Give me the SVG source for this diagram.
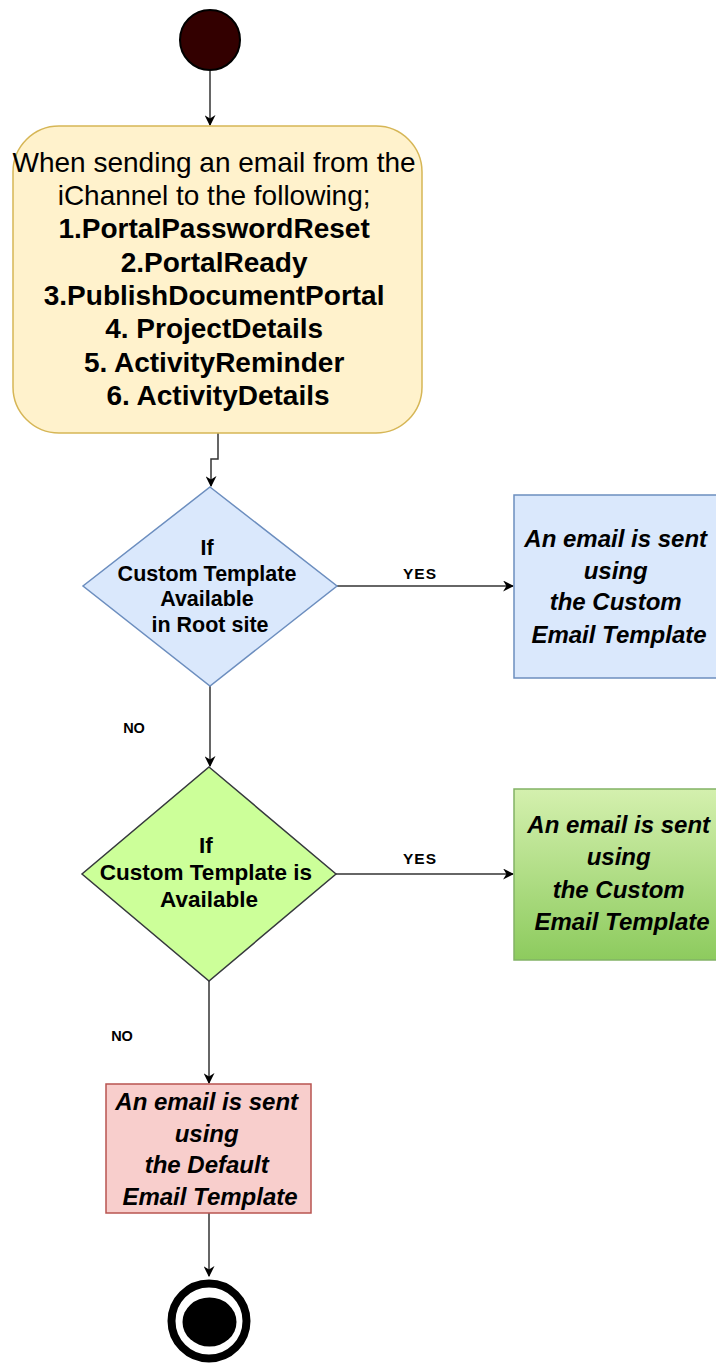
<svg xmlns="http://www.w3.org/2000/svg" width="716" height="1363" viewBox="0 0 716 1363">
<style>
.t{font-family:"Liberation Sans",Arial,sans-serif;fill:#000;text-anchor:middle}
.b{font-weight:bold}
.bi{font-weight:bold;font-style:italic}
.c{fill:none;stroke:#333;stroke-width:1.5}
</style>
<defs>
<marker id="ah" viewBox="0 0 10 10" refX="9" refY="5" markerWidth="11" markerHeight="11" markerUnits="userSpaceOnUse" orient="auto">
<path d="M0,0 L10,5 L0,10 L3,5 Z" fill="#000"/>
</marker>
<linearGradient id="gg" x1="0" y1="0" x2="0" y2="1">
<stop offset="0" stop-color="#d4f0ae"/>
<stop offset="1" stop-color="#8dcb5e"/>
</linearGradient>
</defs>
<rect width="716" height="1363" fill="#fff"/>
<g id="connectors">
<path class="c" d="M210 71 V125" marker-end="url(#ah)"/>
<path class="c" d="M218 433 V459 H211 V486" marker-end="url(#ah)"/>
<path class="c" d="M337 586 H513" marker-end="url(#ah)"/>
<path class="c" d="M210 686 V766" marker-end="url(#ah)"/>
<path class="c" d="M336 874 H513" marker-end="url(#ah)"/>
<path class="c" d="M209 981 V1083" marker-end="url(#ah)"/>
<path class="c" d="M209 1213 V1276" marker-end="url(#ah)"/>
<text class="t b" x="420" y="579" font-size="15.5" letter-spacing="1">YES</text>
<text class="t b" x="420" y="864" font-size="15.5" letter-spacing="1">YES</text>
<text class="t b" x="134" y="733" font-size="14.5">NO</text>
<text class="t b" x="122" y="1041" font-size="14.5">NO</text>
</g>
<g id="start">
<circle cx="210" cy="40" r="30" fill="#330000" stroke="#000" stroke-width="2"/>
</g>
<g id="trigger">
<rect x="13" y="126" width="409" height="307" rx="46" ry="46" fill="#fff2cc" stroke="#d6b656" stroke-width="1.5"/>
<text class="t" font-size="28">
<tspan x="218" y="172">When sending an email from the</tspan>
<tspan x="218" y="205">iChannel to the following;</tspan>
<tspan class="b" x="218" y="238">1.PortalPasswordReset</tspan>
<tspan class="b" x="218" y="272">2.PortalReady</tspan>
<tspan class="b" x="218" y="305">3.PublishDocumentPortal</tspan>
<tspan class="b" x="218" y="338">4. ProjectDetails</tspan>
<tspan class="b" x="218" y="372">5. ActivityReminder</tspan>
<tspan class="b" x="218" y="405">6. ActivityDetails</tspan>
</text>
</g>
<g id="decision1">
<polygon points="210,487 337,586 210,686 83,586" fill="#dae8fc" stroke="#6c8ebf" stroke-width="1.5"/>
<text class="t b" font-size="21.5">
<tspan x="210" y="555">If</tspan>
<tspan x="210" y="581">Custom Template</tspan>
<tspan x="210" y="606">Available</tspan>
<tspan x="210" y="632">in Root site</tspan>
</text>
</g>
<g id="custom-root">
<rect x="514" y="495" width="210" height="183" fill="#dae8fc" stroke="#6c8ebf" stroke-width="1.5"/>
<text class="t bi" font-size="24">
<tspan x="619" y="547">An email is sent</tspan>
<tspan x="619" y="579">using</tspan>
<tspan x="619" y="610">the Custom</tspan>
<tspan x="619" y="643">Email Template</tspan>
</text>
</g>
<g id="decision2">
<polygon points="209,767 336,874 209,981 82,874" fill="#ccff99" stroke="#36393d" stroke-width="1.5"/>
<text class="t b" font-size="22.5">
<tspan x="209" y="853">If</tspan>
<tspan x="209" y="880">Custom Template is</tspan>
<tspan x="209" y="907">Available</tspan>
</text>
</g>
<g id="custom">
<rect x="514" y="789" width="210" height="171" fill="url(#gg)" stroke="#82b366" stroke-width="1.5"/>
<text class="t bi" font-size="24">
<tspan x="622" y="833">An email is sent</tspan>
<tspan x="622" y="865">using</tspan>
<tspan x="622" y="898">the Custom</tspan>
<tspan x="622" y="930">Email Template</tspan>
</text>
</g>
<g id="default">
<rect x="106" y="1084" width="205" height="129" fill="#f8cecc" stroke="#b85450" stroke-width="1.5"/>
<text class="t bi" font-size="24">
<tspan x="210" y="1110">An email is sent</tspan>
<tspan x="210" y="1142">using</tspan>
<tspan x="210" y="1173">the Default</tspan>
<tspan x="210" y="1205">Email Template</tspan>
</text>
</g>
<g id="end">
<circle cx="209" cy="1321" r="37.5" fill="#fff" stroke="#000" stroke-width="8"/>
<ellipse cx="209.5" cy="1322" rx="27" ry="24.5" fill="#000"/>
</g>
</svg>
